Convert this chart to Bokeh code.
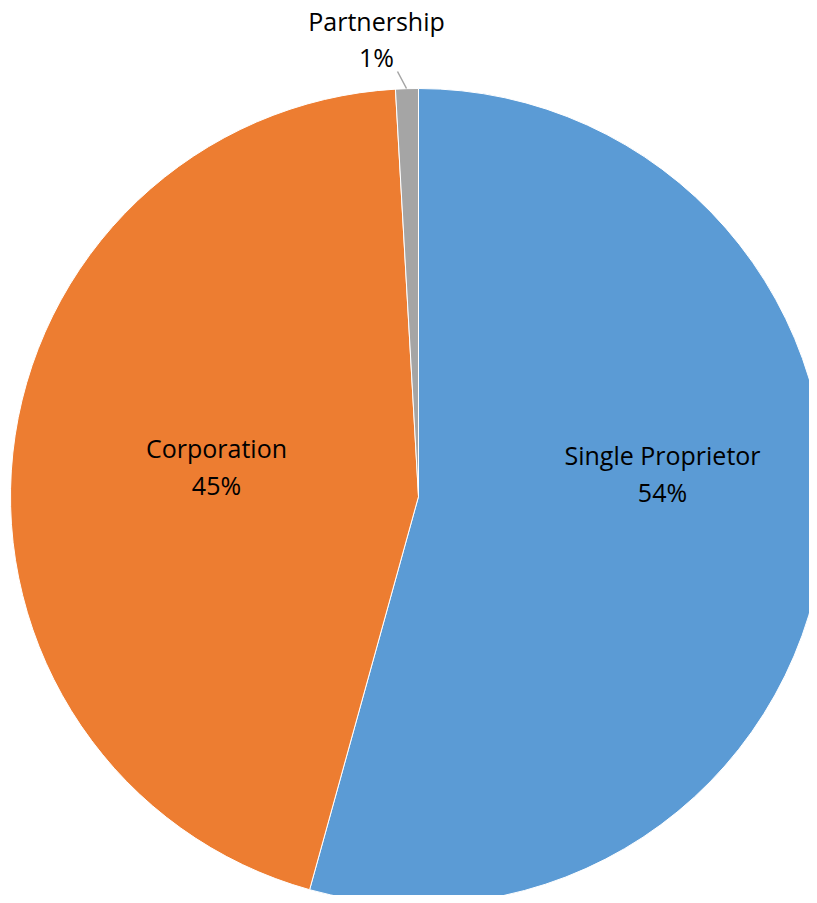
import numpy as np
from bokeh.plotting import figure
from bokeh.models import ColumnDataSource, Range1d
from bokeh.core.properties import value
from bokeh.embed import file_html
from bokeh.resources import INLINE

# data
categories = ["Single Proprietor", "Corporation", "Partnership"]
shares = [54.3, 44.8, 0.9]
colors = ["#5B9BD5", "#ED7D31", "#A5A5A5"]

# layout (page pixels)
W, H = 817, 903
M = 8
cx, cy_px, R = 418, 496, 408
cy = H - cy_px
# label centres (page pixels) for name / percent lines
label_x = [662, 216, 376]
name_y_px = [454, 447, 20]
pct_y_px = [491, 484, 56]

vals = np.array(shares, dtype=float)
frac = vals / vals.sum()
cum = np.concatenate([[0], np.cumsum(frac)])
start = np.pi / 2 - cum[:-1] * 2 * np.pi
end = np.pi / 2 - cum[1:] * 2 * np.pi

src = ColumnDataSource(dict(cat=categories, start=start, end=end, color=colors))

p = figure(width=W - M, height=H - M, output_backend="svg", toolbar_location=None,
           x_range=Range1d(0, W - M), y_range=Range1d(M, H), min_border=0)
p.axis.visible = False
p.grid.visible = False
p.outline_line_color = None

p.wedge(x=cx, y=cy, radius=R, start_angle="start", end_angle="end", direction="clock",
        fill_color="color", line_color="white", line_width=1, source=src)

# leader line for the small slice
p.segment(x0=[397], y0=[H - 71], x1=[406], y1=[H - 88], line_color="#A5A5A5", line_width=1.5)

pcts = [f"{round(v)}%" for v in frac * 100]
lsrc = ColumnDataSource(dict(
    x=label_x,
    yn=[H - y for y in name_y_px],
    yp=[H - y for y in pct_y_px],
    name=categories,
    pct=pcts,
))
for col, ycol in (("name", "yn"), ("pct", "yp")):
    p.text(x="x", y=ycol, text=col, source=lsrc, text_align="center", text_baseline="middle",
           text_font=value("Open Sans"), text_font_size="25px", text_color="#000000")

open("out.html", "w").write(file_html(p, INLINE))
